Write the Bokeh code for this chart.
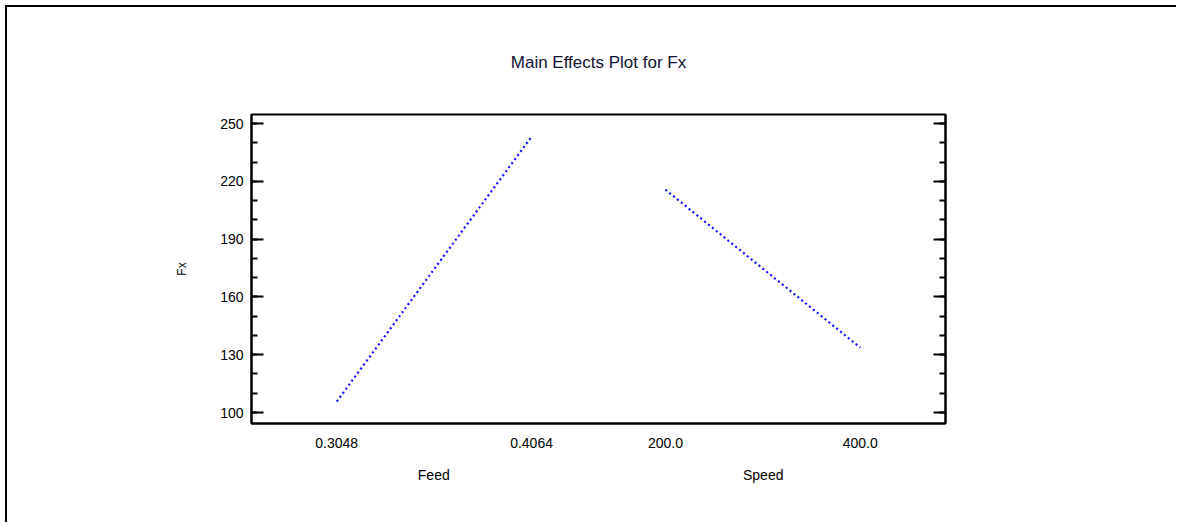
from bokeh.plotting import figure
from bokeh.models import (FactorRange, LinearAxis, CategoricalAxis, FixedTicker, Range1d,
                          ColumnDataSource)
from bokeh.embed import file_html
from bokeh.resources import INLINE

# ---- data ----
title_text = "Main Effects Plot for Fx"
y_label = "Fx"
factor_names = ["Feed", "Speed"]
feed_levels = ["0.3048", "0.4064"]
feed_means = [105.7, 243.2]
speed_levels = ["200.0", "400.0"]
speed_means = [215.7, 133.7]
y_ticks = [100, 130, 160, 190, 220, 250]
y_minor = [100, 110, 120, 130, 140, 150, 160, 170, 180, 190, 200, 210, 220, 230, 240, 250]

FONT = "Liberation Sans"

factors = [(factor_names[0], l) for l in feed_levels] + [(factor_names[1], l) for l in speed_levels]
xr = FactorRange(factors=factors, factor_padding=1.0, group_padding=0.374,
                 range_padding=0.375, range_padding_units="absolute")

p = figure(width=1171, height=517, x_range=xr, y_range=Range1d(94.3, 254.7),
           output_backend="svg", toolbar_location=None,
           min_border_left=244, min_border_right=233, min_border_top=107, min_border_bottom=101)

p.styles = {"margin-left": "7px", "margin-top": "7px",
            "box-shadow": "-2px -2px 0px 0px black"}

p.title.text = title_text
p.title.align = "center"
p.title.text_font = FONT
p.title.text_font_size = "17px"
p.title.text_font_style = "normal"
p.title.text_color = "#111133"
p.title.standoff = 85

p.grid.visible = False
p.outline_line_color = "black"
p.outline_line_width = 2
p.outline_line_alpha = 1

feed_src = ColumnDataSource(dict(x=[(factor_names[0], l) for l in feed_levels], y=feed_means))
speed_src = ColumnDataSource(dict(x=[(factor_names[1], l) for l in speed_levels], y=speed_means))
for src in (feed_src, speed_src):
    p.line("x", "y", source=src, line_color="#1010ff", line_width=2.2, line_dash="2 3")

# y axis (left)
ya = p.yaxis[0]
ya.ticker = FixedTicker(ticks=y_ticks, minor_ticks=y_minor)
ya.axis_label = y_label
ya.axis_label_text_font = FONT
ya.axis_label_text_font_size = "12px"
ya.axis_label_text_font_style = "normal"
ya.axis_label_text_color = "black"
ya.axis_label_standoff = 28
ya.major_label_text_font = FONT
ya.major_label_text_font_size = "14px"
ya.major_label_text_color = "black"
ya.major_label_standoff = 8
ya.major_tick_in = 12
ya.major_tick_out = 0
ya.minor_tick_in = 6
ya.minor_tick_out = 0
ya.major_tick_line_width = 2
ya.minor_tick_line_width = 2
ya.axis_line_width = 2

# right axis: ticks only
ra = LinearAxis(ticker=FixedTicker(ticks=y_ticks, minor_ticks=y_minor))
ra.major_label_text_color = None
ra.major_tick_in = 12
ra.major_tick_out = 0
ra.minor_tick_in = 6
ra.minor_tick_out = 0
ra.major_tick_line_width = 2
ra.minor_tick_line_width = 2
ra.axis_line_width = 2
p.add_layout(ra, "right")

# x axis: level labels (factor names drawn by a second axis below)
xa = p.xaxis[0]
xa.major_tick_line_color = None
xa.minor_tick_line_color = None
xa.axis_line_width = 2
xa.separator_line_color = None
xa.major_label_text_font = FONT
xa.major_label_text_font_size = "14px"
xa.major_label_text_color = "black"
xa.major_label_standoff = 8
xa.group_text_font_size = "0px"
xa.group_text_color = None

# factor-name axis
p.extra_x_ranges = {"grp": FactorRange(factors=factor_names, factor_padding=2.29,
                                        range_padding=1.32, range_padding_units="absolute")}
ga = CategoricalAxis(x_range_name="grp")
ga.axis_line_color = None
ga.major_tick_line_color = None
ga.minor_tick_line_color = None
ga.major_label_text_font = FONT
ga.major_label_text_font_size = "14px"
ga.major_label_text_color = "black"
ga.major_label_standoff = 10
p.add_layout(ga, "below")

open("out.html", "w").write(file_html(p, INLINE))
